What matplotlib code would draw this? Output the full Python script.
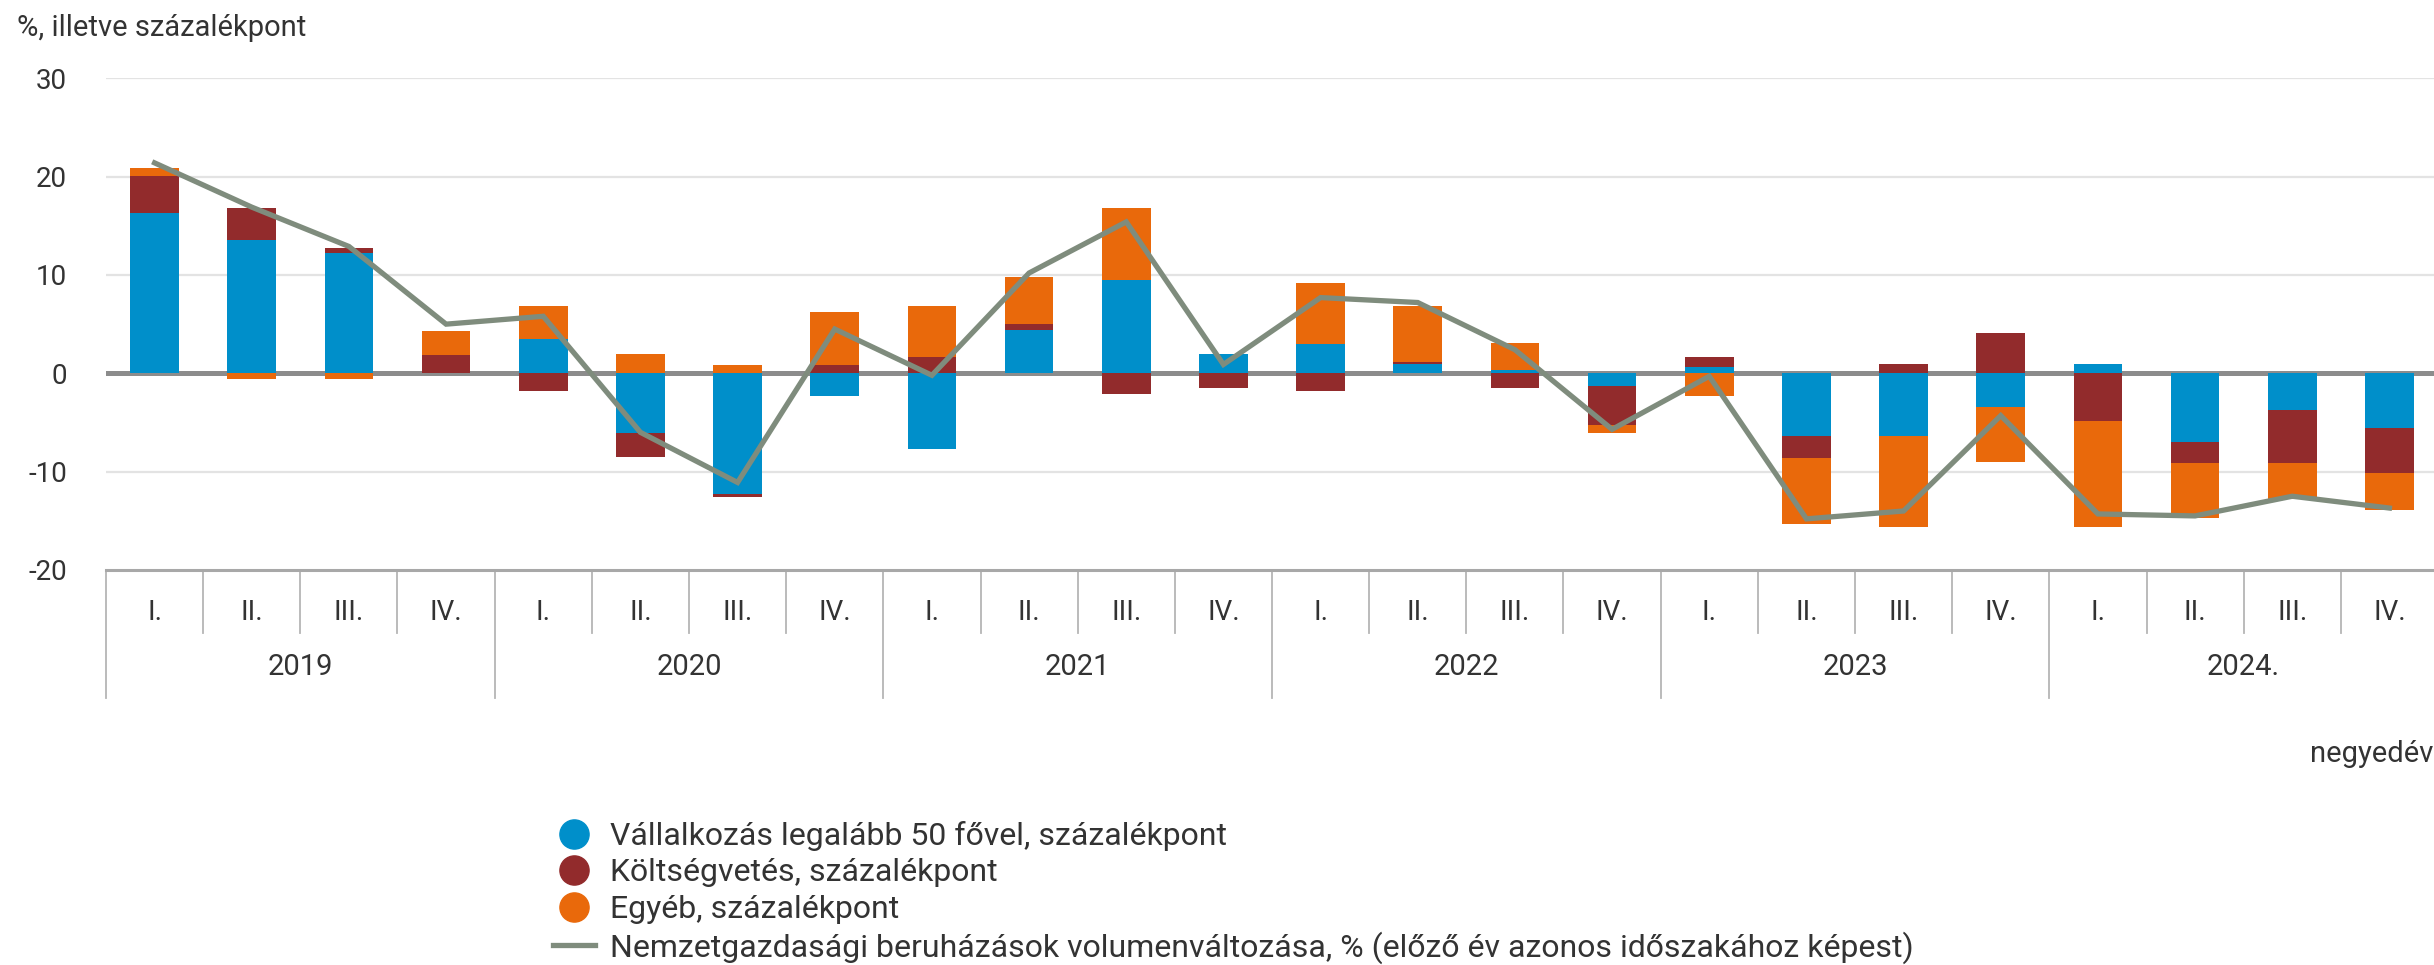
import numpy as np
import matplotlib
matplotlib.use("Agg")
import matplotlib.pyplot as plt
from matplotlib.lines import Line2D
from matplotlib.transforms import blended_transform_factory

plt.rcParams['font.family'] = ['Roboto', 'DejaVu Sans']

# ---------------- data ----------------
years = ['2019', '2020', '2021', '2022', '2023', '2024.']
quarters = ['I.', 'II.', 'III.', 'IV.']

vallalkozas = [16.3, 13.6, 12.2, 0.0, 3.5, -6.1, -12.3, -2.3, -7.7, 4.4, 9.5, 2.0,
               3.0, 0.9, 0.3, -1.3, 0.65, -6.4, -6.4, -3.4, 0.9, -7.0, -3.7, -5.6]
koltsegvetes = [3.8, 3.2, 0.5, 1.9, -1.8, -2.4, -0.3, 0.85, 1.7, 0.6, -2.1, -1.5,
                -1.8, 0.3, -1.5, -4.0, 1.05, -2.2, 0.9, 4.1, -4.8, -2.1, -5.4, -4.5]
egyeb = [0.8, -0.6, -0.6, 2.4, 3.3, 2.0, 0.85, 5.4, 5.1, 4.8, 7.3, 0.0,
         6.2, 5.6, 2.8, -0.8, -2.3, -6.7, -9.2, -5.65, -10.8, -5.65, -3.7, -3.75]
nemzetgazdasagi = [21.4, 16.9, 12.9, 5.0, 5.8, -6.0, -11.1, 4.5, -0.2, 10.2, 15.4, 0.9,
                   7.7, 7.2, 2.4, -5.7, -0.3, -14.8, -14.0, -4.3, -14.3, -14.5, -12.5, -13.7]

series_labels = ['Vállalkozás legalább 50 fővel, százalékpont',
                 'Költségvetés, százalékpont',
                 'Egyéb, százalékpont',
                 'Nemzetgazdasági beruházások volumenváltozása, % (előző év azonos időszakához képest)']
y_ticks = [-20, -10, 0, 10, 20, 30]
y_title = '%, illetve százalékpont'
x_title = 'negyedév'

bar_colors = ['#008fca', '#922b2c', '#e9690b']
line_color = '#7f8c7d'
text_color = '#333333'

# ---------------- figure ----------------
W, H = 2434, 965
fig = plt.figure(figsize=(W / 100, H / 100), dpi=100)
top_px, bot_px, left_px, right_px = 78.3, 570.0, 106.0, 2438.0
ax = fig.add_axes([left_px / W, 1 - bot_px / H, (right_px - left_px) / W, (bot_px - top_px) / H])

n = len(vallalkozas)
x = np.arange(n)

pos_bottom = np.zeros(n)
neg_bottom = np.zeros(n)
for vals, col in zip([vallalkozas, koltsegvetes, egyeb], bar_colors):
    v = np.array(vals, dtype=float)
    bottoms = np.where(v >= 0, pos_bottom, neg_bottom)
    ax.bar(x, v, bottom=bottoms, width=0.5, color=col, zorder=3, linewidth=0)
    pos_bottom = pos_bottom + np.where(v > 0, v, 0)
    neg_bottom = neg_bottom + np.where(v < 0, v, 0)

ax.plot(x, nemzetgazdasagi, color=line_color, lw=3.8, zorder=5, solid_joinstyle='miter')

ax.set_xlim(-0.5, n - 0.5)
ax.set_ylim(y_ticks[0], y_ticks[-1])
ax.set_yticks(y_ticks)
ax.set_yticklabels([str(t) for t in y_ticks], fontsize=20, color=text_color)
ax.tick_params(axis='y', length=0, pad=28)
ax.set_xticks([])

for t in y_ticks:
    if t == 0:
        ax.axhline(t, color='#8c8c8c', lw=3.6, zorder=2)
    elif t != y_ticks[0]:
        ax.axhline(t, color='#e3e3e3', lw=1.6, zorder=1)

for s in ['top', 'right', 'left']:
    ax.spines[s].set_visible(False)
ax.spines['bottom'].set_color('#a8a8a8')
ax.spines['bottom'].set_linewidth(2.2)

# category axis (two levels)
trans = blended_transform_factory(ax.transData, fig.transFigure)
for i in range(n):
    ax.text(i, 1 - 612 / H, quarters[i % 4], transform=trans, ha='center', va='center',
            fontsize=20, color=text_color)
for k, yr in enumerate(years):
    ax.text(4 * k + 1.5, 1 - 667 / H, yr, transform=trans, ha='center', va='center',
            fontsize=21, color=text_color)
for b in range(n + 1):
    y_end = 698 if b % 4 == 0 else 633
    ax.plot([b - 0.5, b - 0.5], [1 - bot_px / H, 1 - y_end / H], transform=trans,
            color='#b5b5b5', lw=1.3, clip_on=False)

fig.text(17 / W, 1 - 28 / H, y_title, ha='left', va='center', fontsize=21, color=text_color)
fig.text(2310 / W, 1 - 754 / H, x_title, ha='left', va='center', fontsize=21, color=text_color)

handles = [Line2D([], [], marker='o', linestyle='none', markersize=21, color=c) for c in bar_colors]
handles.append(Line2D([], [], color=line_color, lw=3.8))
fig.legend(handles, series_labels, loc='upper left', bbox_to_anchor=(553 / W, 1 - 821 / H),
           frameon=False, fontsize=23, handlelength=1.3, handletextpad=0.5,
           labelspacing=0.23, borderpad=0, borderaxespad=0, labelcolor=text_color)

fig.savefig('out.png', dpi=100, facecolor='white')
